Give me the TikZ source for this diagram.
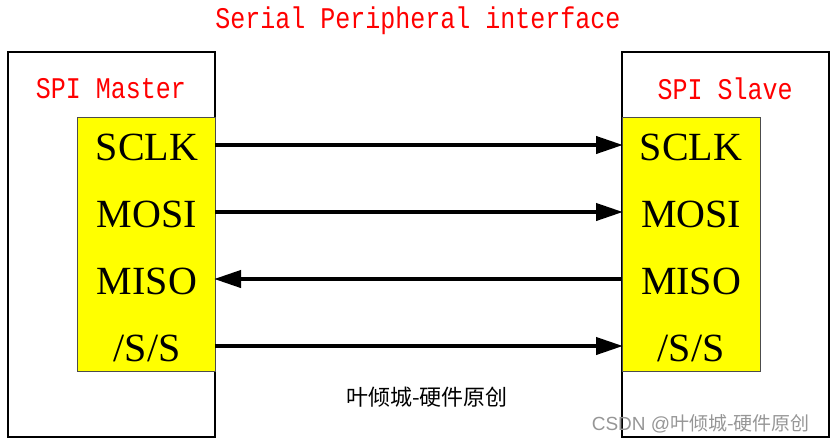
\documentclass[tikz,border=0pt]{standalone}
\usepackage{fontspec}
\setmainfont{Liberation Serif}
\newfontfamily\titolofont{Liberation Mono}
\newfontfamily\cjkfont{Noto Sans CJK SC}
\newfontfamily\marchiofont{Liberation Sans}
\usetikzlibrary{arrows.meta}
\definecolor{rosso}{RGB}{255,0,0}
\definecolor{giallo}{RGB}{255,255,0}
\definecolor{grigio}{RGB}{150,150,150}

\begin{document}
\begin{tikzpicture}[x=1pt,y=-1pt,
    blocco/.style={draw=black,line width=2pt,anchor=north west,inner sep=0pt,outer sep=0pt,minimum width=207pt,minimum height=385pt},
    porte/.style={draw=black!70,fill=giallo,line width=1pt,anchor=north west,inner sep=0pt,outer sep=0pt,minimum width=138pt,minimum height=254pt},
    titolo/.style={text=rosso,font=\titolofont\fontsize{25}{25}\selectfont,inner sep=0pt,yscale=1.2},
    segnale/.style={font=\fontsize{40}{40}\selectfont,anchor=base,inner sep=0pt,text height=30pt,text depth=0pt},
    freccia/.style={line width=4pt,-{Triangle[length=27pt,width=17pt]},shorten >=-1pt}]
    \useasboundingbox (0,0) rectangle (834,445);
    %titolo
    \node[titolo] (titolo) at (418,21) {Serial Peripheral interface};
    %disegno master
    \node[blocco] (master) at (8,52) {};
    \node[titolo] (tmaster) at (111,89) {SPI Master};
    \node[porte] (mio) at (77,117) {};
    %disegno slave
    \node[blocco] (slave) at (622,52) {};
    \node[titolo] (tslave) at (725,89) {SPI Slave};
    \node[porte] (sio) at (622,117) {};
    %segnali master
    \node[segnale] (ms1) at (147,160) {SCLK};
    \node[segnale] (ms2) at (147,227) {MOSI};
    \node[segnale] (ms3) at (147,294) {MISO};
    \node[segnale] (ms4) at (147,361) {/S/S};
    %segnali slave
    \node[segnale] (ss1) at (691,160) {SCLK};
    \node[segnale] (ss2) at (691,227) {MOSI};
    \node[segnale] (ss3) at (691,294) {MISO};
    \node[segnale] (ss4) at (691,361) {/S/S};
    %frecce
    \draw[freccia] (mio.east |- ms1) -- (sio.west |- ss1);
    \draw[freccia] (mio.east |- ms2) -- (sio.west |- ss2);
    \draw[freccia] (sio.west |- ss3) -- (mio.east |- ms3);
    \draw[freccia] (mio.east |- ms4) -- (sio.west |- ss4);
    %scritte in basso
    \node[font=\cjkfont\fontsize{22}{22}\selectfont] (autore) at (427,397) {叶倾城-硬件原创};
    \node[text=grigio,anchor=east,inner sep=0pt] (marchio) at (810,424) {\marchiofont\fontsize{19}{19}\selectfont CSDN @\cjkfont 叶倾城-硬件原创};
\end{tikzpicture}
\end{document}
